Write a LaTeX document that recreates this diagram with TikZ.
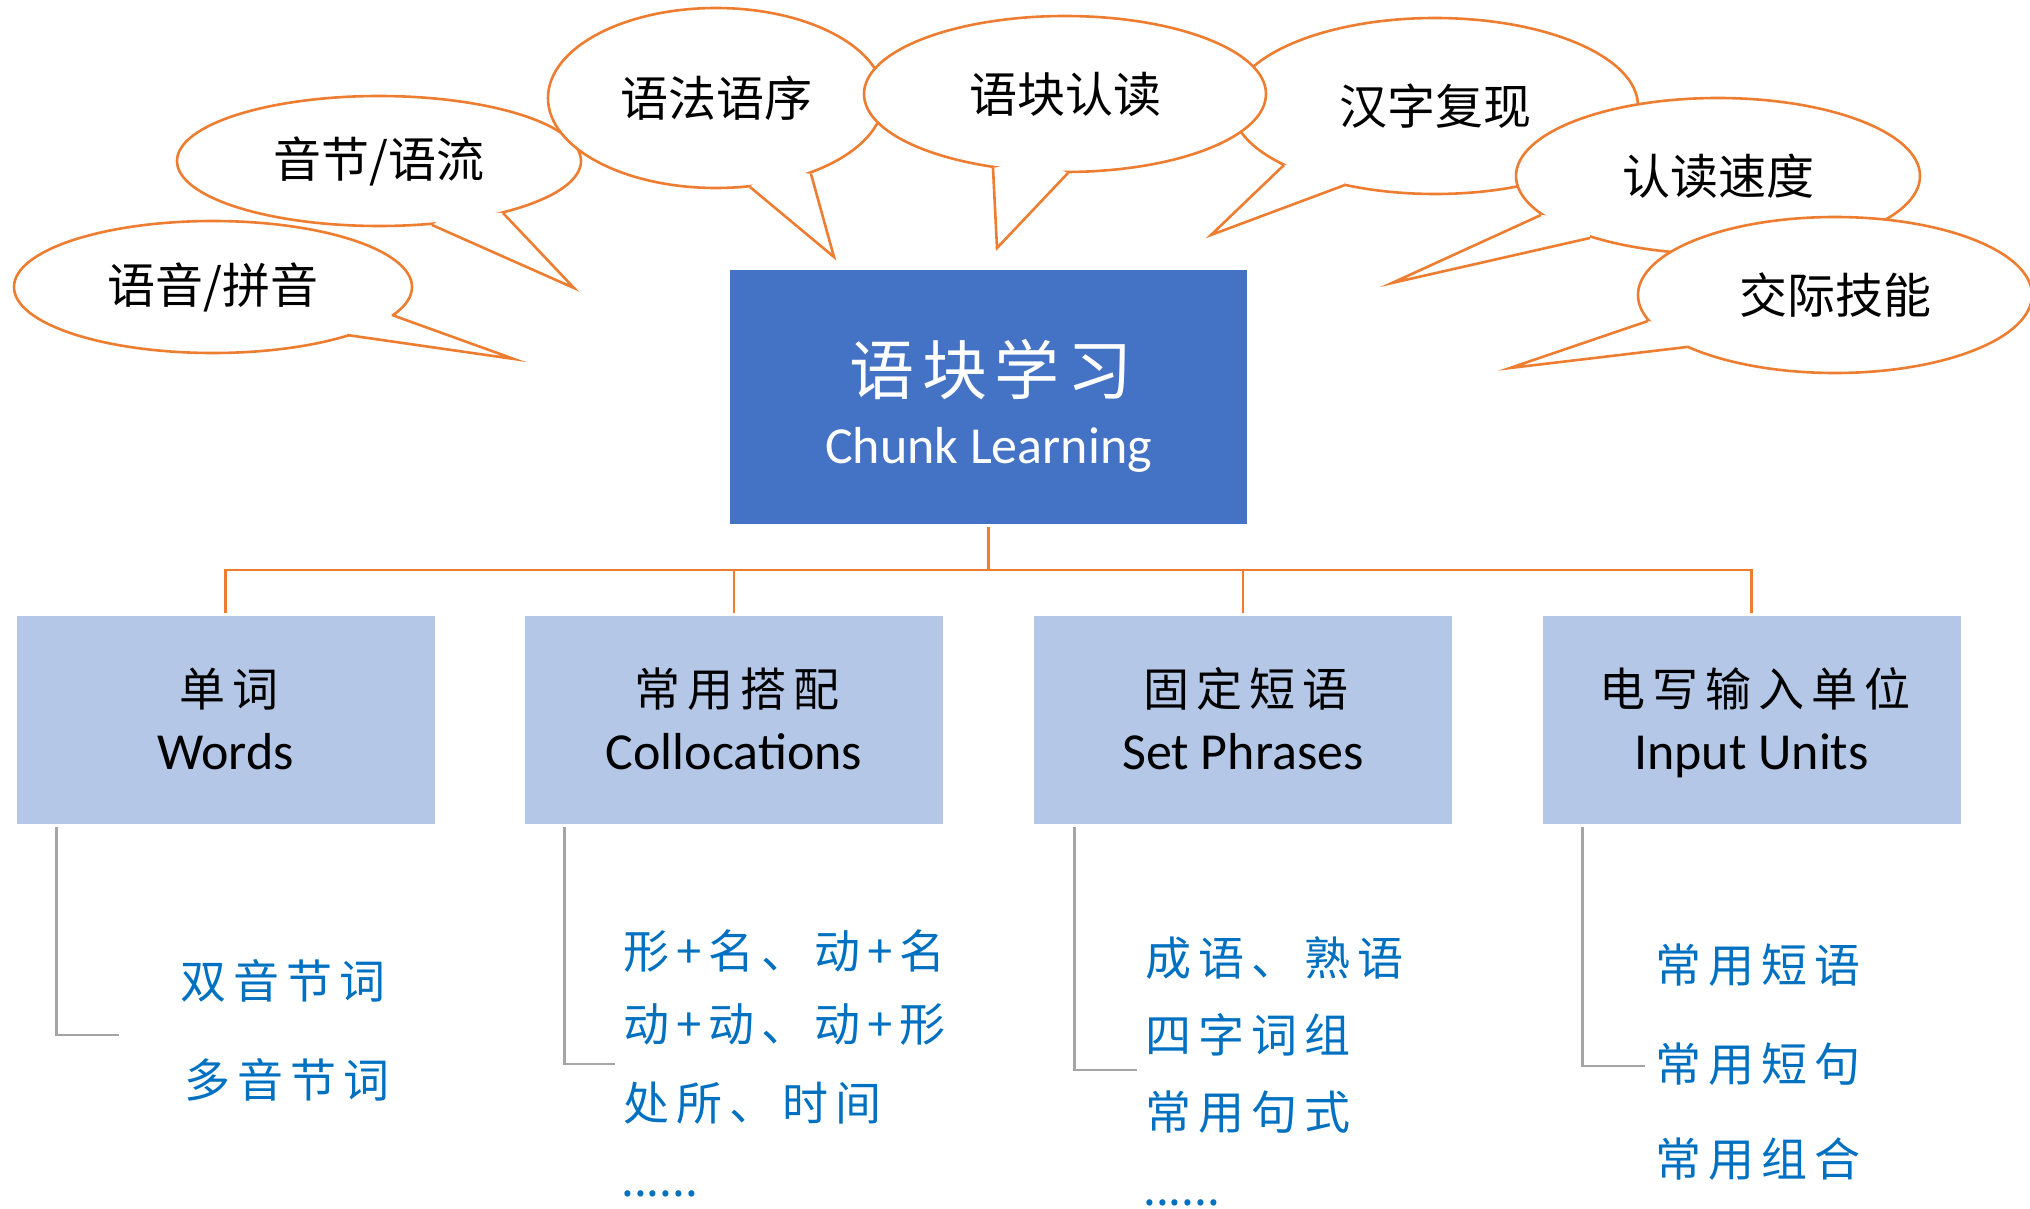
\documentclass[tikz,border=0pt]{standalone}
\usepackage{fontspec}
\setmainfont{Carlito}
\newfontfamily\cjk{Noto Sans CJK SC}
\newfontfamily\cjksp[LetterSpace=15]{Noto Sans CJK SC}
\newfontfamily\cjktitle[LetterSpace=12]{Noto Sans CJK SC}
\usetikzlibrary{shapes.geometric,calc}
\definecolor{orng}{HTML}{ED7D31}
\definecolor{dblue}{HTML}{4472C4}
\definecolor{lblue}{HTML}{B4C7E7}
\definecolor{tblue}{HTML}{0070C0}
\definecolor{lgray}{HTML}{A5A5A5}
\tikzset{
  bubble/.style={ellipse, draw=orng, line width=1.3pt, fill=white, inner sep=0pt,
    font=\cjk\fontsize{24}{28}\selectfont},
  tailline/.style={draw=orng, line width=1.3pt, line join=miter},
  oline/.style={draw=orng, line width=1.4pt},
  gline/.style={draw=lgray, line width=1.4pt},
  mainbox/.style={rectangle, fill=dblue, minimum width=258.5pt, minimum height=127pt, inner sep=0pt},
  subbox/.style={rectangle, fill=lblue, minimum width=209pt, minimum height=104pt, inner sep=0pt},
  boxcn/.style={font=\cjksp\fontsize{23}{27}\selectfont, text=black, inner sep=0pt},
  boxen/.style={font=\fontsize{26}{30}\selectfont, text=black, anchor=base, inner sep=0pt},
  item/.style={font=\cjksp\fontsize{23}{27}\selectfont, text=tblue, anchor=west, inner sep=0pt},
  dots/.style={font=\cjk\fontsize{23}{27}\selectfont, text=tblue, anchor=base west, inner sep=0pt},
}
\newcommand{\mytail}[4]{%
  \fill[white] (#2) -- (#3) -- (#4) -- ($($(#2)!0.5!(#4)$)!0.15!(#1.center)$) -- cycle;
  \draw[tailline] (#2) -- (#3) -- (#4);}
\begin{document}
\begin{tikzpicture}[x=0.5pt,y=-0.5pt]
\useasboundingbox (0,0) rectangle (2030,1209);

% ---- speech bubbles ----
\node[bubble, minimum width=199pt, minimum height=66pt] (s1) at (213,287) {语音/拼音};
\coordinate (s1a) at (392,315); \coordinate (s1t) at (514,359); \coordinate (s1b) at (347,335);
\mytail{s1}{s1a}{s1t}{s1b}

\node[bubble, minimum width=202pt, minimum height=65pt] (s2) at (379,161) {音节/语流};
\coordinate (s2a) at (503,213); \coordinate (s2t) at (574,288); \coordinate (s2b) at (432,225);
\mytail{s2}{s2a}{s2t}{s2b}

\node[bubble, minimum width=168pt, minimum height=90pt] (s3) at (716,98) {语法语序};
\coordinate (s3a) at (811,174); \coordinate (s3t) at (834,257); \coordinate (s3b) at (750,187);
\mytail{s3}{s3a}{s3t}{s3b}

\node[bubble, minimum width=203pt, minimum height=88pt] (s5) at (1435,106) {汉字复现};
\coordinate (s5a) at (1284,165); \coordinate (s5t) at (1211,235); \coordinate (s5b) at (1345,185);
\mytail{s5}{s5a}{s5t}{s5b}

\node[bubble, minimum width=201pt, minimum height=78pt] (s4) at (1065,94) {语块认读};
\coordinate (s4a) at (993,168); \coordinate (s4t) at (997,248); \coordinate (s4b) at (1068,173);
\mytail{s4}{s4a}{s4t}{s4b}

\node[bubble, minimum width=202pt, minimum height=78pt] (s6) at (1718,176) {认读速度};
\coordinate (s6a) at (1541,215); \coordinate (s6t) at (1392,283); \coordinate (s6b) at (1590,238);
\mytail{s6}{s6a}{s6t}{s6b}

\node[bubble, minimum width=197pt, minimum height=78pt] (s7) at (1835,295) {交际技能};
\coordinate (s7a) at (1648,321); \coordinate (s7t) at (1510,368); \coordinate (s7b) at (1687,347);
\mytail{s7}{s7a}{s7t}{s7b}

% ---- main box ----
\node[mainbox] (c) at (988.5,397) {};
\node[font=\cjktitle\fontsize{32.5}{38}\selectfont, text=white, inner sep=0pt] (ct) at (991,370) {语块学习};
\node[font=\fontsize{26}{30}\selectfont, text=white, anchor=base, inner sep=0pt] (ce) at (988.5,463) {Chunk Learning};

% ---- sub boxes ----
\node[subbox] (b1) at (225.5,720) {};
\node[subbox] (b2) at (734,720) {};
\node[subbox] (b3) at (1243,720) {};
\node[subbox] (b4) at (1751.5,720) {};

\node[boxcn] (b1c) at (229,689) {单词};
\node[boxen] (b1e) at (225.5,769) {Words};
\node[boxcn] (b2c) at (737,689) {常用搭配};
\node[boxen] (b2e) at (734,769) {Collocations};
\node[boxcn] (b3c) at (1246,689) {固定短语};
\node[boxen] (b3e) at (1243,769) {Set Phrases};
\node[boxcn] (b4c) at (1755,689) {电写输入单位};
\node[boxen] (b4e) at (1751.5,769) {Input Units};

% ---- orange connectors ----
\coordinate (hub) at (988.5,570);
\draw[oline, shorten <=1.5pt] (c.south) -- (hub);
\draw[oline, shorten >=1.5pt] (hub) -| (b1.north);
\draw[oline, shorten >=1.5pt] (hub) -| (b2.north);
\draw[oline, shorten >=1.5pt] (hub) -| (b3.north);
\draw[oline, shorten >=1.5pt] (hub) -| (b4.north);

% ---- gray brackets ----
\coordinate (g1s) at ([xshift=20pt,yshift=-1.5pt]b1.south west);
\coordinate (g1e) at (119,1035);
\draw[gline] (g1s) |- (g1e);
\coordinate (g2s) at ([xshift=20pt,yshift=-1.5pt]b2.south west);
\coordinate (g2e) at (615,1064);
\draw[gline] (g2s) |- (g2e);
\coordinate (g3s) at ([xshift=20.5pt,yshift=-1.5pt]b3.south west);
\coordinate (g3e) at (1137,1070);
\draw[gline] (g3s) |- (g3e);
\coordinate (g4s) at ([xshift=20pt,yshift=-1.5pt]b4.south west);
\coordinate (g4e) at (1645,1066);
\draw[gline] (g4s) |- (g4e);

% ---- items ----
\node[item] (i11) at (180,981) {双音节词};
\node[item] (i12) at (184,1080) {多音节词};

\node[item] (i21) at (623,951) {形+名、动+名};
\node[item] (i22) at (623,1025) {动+动、动+形};
\node[item] (i23) at (623,1103) {处所、时间};
\node[dots] (i24) at (621,1196) {......};

\node[item] (i31) at (1145,958) {成语、熟语};
\node[item] (i32) at (1145,1035) {四字词组};
\node[item] (i33) at (1145,1112) {常用句式};
\node[dots] (i34) at (1143,1205) {......};

\node[item] (i41) at (1655,965) {常用短语};
\node[item] (i42) at (1655,1064) {常用短句};
\node[item] (i43) at (1655,1159) {常用组合};
\end{tikzpicture}
\end{document}
